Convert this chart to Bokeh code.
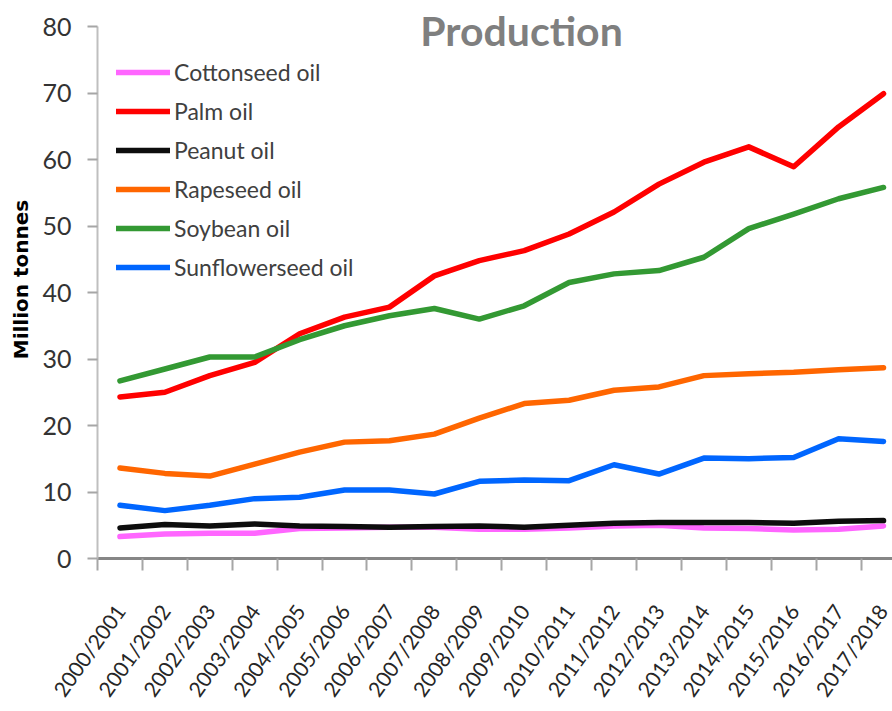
from bokeh.plotting import figure
from bokeh.models import Range1d, FixedTicker, Label, Legend, LegendItem
from bokeh.embed import file_html
from bokeh.resources import INLINE

seasons = ["2000/2001", "2001/2002", "2002/2003", "2003/2004", "2004/2005", "2005/2006",
           "2006/2007", "2007/2008", "2008/2009", "2009/2010", "2010/2011", "2011/2012",
           "2012/2013", "2013/2014", "2014/2015", "2015/2016", "2016/2017", "2017/2018"]

cottonseed = [3.3, 3.7, 3.8, 3.8, 4.5, 4.6, 4.7, 4.7, 4.4, 4.4, 4.6, 4.9, 5.0, 4.6, 4.5, 4.3, 4.4, 4.9]
palm = [24.3, 25.0, 27.5, 29.5, 33.8, 36.3, 37.8, 42.5, 44.8, 46.3, 48.8, 52.1, 56.3, 59.6, 61.9, 58.9, 64.9, 69.9]
peanut = [4.6, 5.1, 4.9, 5.2, 4.9, 4.8, 4.7, 4.8, 4.9, 4.7, 5.0, 5.3, 5.4, 5.4, 5.4, 5.3, 5.6, 5.7]
rapeseed = [13.6, 12.8, 12.4, 14.2, 16.0, 17.5, 17.7, 18.7, 21.1, 23.3, 23.8, 25.3, 25.8, 27.5, 27.8, 28.0, 28.4, 28.7]
soybean = [26.7, 28.5, 30.3, 30.3, 32.9, 35.0, 36.5, 37.6, 36.0, 38.0, 41.5, 42.8, 43.3, 45.3, 49.6, 51.8, 54.1, 55.8]
sunflower = [8.0, 7.2, 8.0, 9.0, 9.2, 10.3, 10.3, 9.7, 11.6, 11.8, 11.7, 14.1, 12.7, 15.1, 15.0, 15.2, 18.0, 17.6]

series_names = ["Cottonseed oil", "Palm oil", "Peanut oil", "Rapeseed oil", "Soybean oil", "Sunflowerseed oil"]
series_values = [cottonseed, palm, peanut, rapeseed, soybean, sunflower]
series_colors = ["#ff66ff", "#ff0000", "#0d0d0d", "#ff6600", "#339933", "#0066ff"]

y_ticks = [0, 10, 20, 30, 40, 50, 60, 70, 80]

FONT = "Lato"

idx = list(range(len(seasons)))

p = figure(width=892, height=711, output_backend="svg", toolbar_location=None,
           x_range=Range1d(-0.5, len(seasons) - 0.8), y_range=Range1d(0, 80 * 558 / 532),
           min_border_left=97, min_border_top=0, min_border_bottom=153, min_border_right=0)
p.outline_line_color = None
p.xgrid.grid_line_color = None
p.ygrid.grid_line_color = None
p.background_fill_color = "white"
p.border_fill_color = "white"

items = []
for name, vals, col in zip(series_names, series_values, series_colors):
    r = p.line(idx, vals, line_color=col, line_width=5.5, line_join="round", line_cap="round")
    items.append(LegendItem(label=name, renderers=[r]))

legend = Legend(items=items, location=(19, 277), orientation="vertical",
                glyph_width=54, glyph_height=26, label_height=26, spacing=11,
                label_standoff=4, padding=0, margin=0,
                label_text_font=FONT, label_text_font_size="23px", label_text_color="#404040",
                border_line_color=None, background_fill_alpha=0)
p.add_layout(legend, "center")

# x axis
xa = p.xaxis[0]
xa.ticker = FixedTicker(ticks=idx, minor_ticks=[i - 0.5 for i in idx] + [len(idx) - 0.5])
xa.major_label_overrides = {i: s for i, s in zip(idx, seasons)}
xa.major_label_orientation = 0.95
xa.major_tick_line_color = None
xa.major_tick_out = 12
xa.major_tick_in = 0
xa.minor_tick_out = 12
xa.minor_tick_in = 0
xa.minor_tick_line_color = "#a6a6a6"
xa.minor_tick_line_width = 2
xa.axis_line_color = "#868686"
xa.axis_line_width = 3
xa.major_label_standoff = 36
xa.major_label_text_font = FONT
xa.major_label_text_font_size = "21px"
xa.major_label_text_color = "#262626"

# y axis
ya = p.yaxis[0]
ya.ticker = FixedTicker(ticks=y_ticks, minor_ticks=[])
ya.bounds = (0, 80)
ya.axis_line_color = "#bfbfbf"
ya.axis_line_width = 2
ya.major_tick_line_color = "#a6a6a6"
ya.major_tick_line_width = 2
ya.major_tick_out = 10
ya.major_tick_in = 0
ya.minor_tick_line_color = None
ya.major_label_standoff = 16
ya.major_label_text_font = FONT
ya.major_label_text_font_size = "25px"
ya.major_label_text_color = "#333333"
ya.axis_label = "Million tonnes"
ya.axis_label_text_font = "DejaVu Sans"
ya.axis_label_text_font_size = "20px"
ya.axis_label_text_font_style = "bold"
ya.axis_label_text_color = "#000000"
ya.axis_label_standoff = 6

title = Label(x=8.94, y=79.4, text="Production", text_align="center", text_baseline="middle",
              text_font=FONT, text_font_size="41px", text_font_style="bold", text_color="#7f7f7f")
p.add_layout(title)

open("out.html", "w").write(file_html(p, INLINE))
